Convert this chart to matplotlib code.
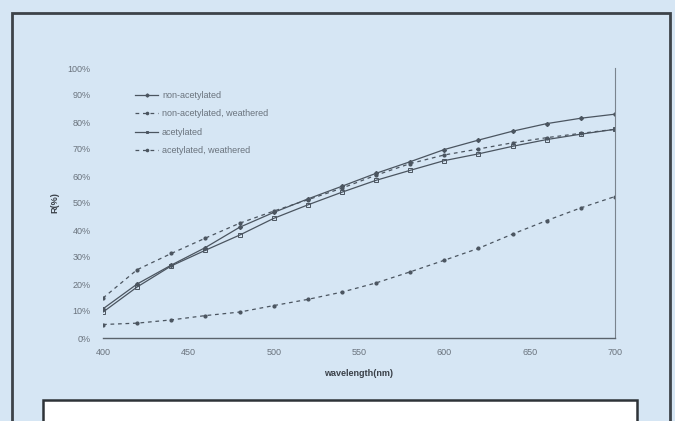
import matplotlib
matplotlib.use("Agg")
import matplotlib.pyplot as plt
from matplotlib.patches import Rectangle
from matplotlib.ticker import FuncFormatter

# wavelengths (nm) and reflectance R (%)
wavelength = [400, 420, 440, 460, 480, 500, 520, 540, 560, 580, 600, 620, 640, 660, 680, 700]
non_acetylated = [10.8, 20.0, 27.0, 33.5, 41.0, 46.5, 51.5, 56.2, 61.0, 65.3, 69.8, 73.3, 76.6, 79.4, 81.4, 82.9]
non_acetylated_weathered = [14.8, 25.3, 31.3, 37.0, 42.5, 47.0, 51.2, 55.5, 60.3, 64.6, 67.8, 70.0, 72.3, 74.2, 75.8, 77.3]
acetylated = [9.6, 18.9, 26.7, 32.5, 38.1, 44.3, 49.3, 54.0, 58.4, 62.1, 65.7, 68.2, 71.0, 73.5, 75.5, 77.3]
acetylated_weathered = [5.0, 5.5, 6.7, 8.3, 9.6, 12.0, 14.3, 17.0, 20.4, 24.5, 28.8, 33.2, 38.5, 43.5, 48.2, 52.4]

labels = ["non-acetylated", "non-acetylated, weathered", "acetylated", "acetylated, weathered"]

W, H = 675, 421
bg = "#d6e6f4"
line_c = "#4b5560"
text_c = "#6a737d"
plt.rcParams["font.family"] = ["Liberation Sans", "DejaVu Sans"]

fig = plt.figure(figsize=(W / 100, H / 100), dpi=100)
fig.patch.set_facecolor(bg)

# outer frame and caption box (pixel coords from top-left)
def px_rect(x0, y0, x1, y1, **kw):
    return Rectangle((x0 / W, 1 - y1 / H), (x1 - x0) / W, (y1 - y0) / H,
                     transform=fig.transFigure, **kw)

fig.patches.append(px_rect(12, 13, 670, 430, fill=False, edgecolor="#3d4349", linewidth=2))
fig.patches.append(px_rect(43, 400, 637, 430, facecolor="white", edgecolor="#2e3338", linewidth=1.8))

ax = fig.add_axes([103 / W, (H - 338) / H, 512 / W, 270 / H])
ax.set_facecolor("none")

ax.plot(wavelength, non_acetylated, color=line_c, lw=0.9, marker="D", ms=2.0)
ax.plot(wavelength, non_acetylated_weathered, color=line_c, lw=0.9, ls=(0, (3, 3)), marker="o", ms=2.0)
ax.plot(wavelength, acetylated, color=line_c, lw=0.9, marker="s", ms=2.4, mfc="none", mew=0.7)
ax.plot(wavelength, acetylated_weathered, color=line_c, lw=0.9, ls=(0, (3, 3)), marker="o", ms=2.0)

ax.set_xlim(400, 700)
ax.set_ylim(0, 100)
ax.set_xticks([400, 450, 500, 550, 600, 650, 700])
ax.set_yticks(range(0, 101, 10))
ax.yaxis.set_major_formatter(FuncFormatter(lambda v, p: "%d%%" % v))
ax.tick_params(length=0, labelsize=6.5, labelcolor=text_c)
ax.tick_params(axis="y", pad=9)
ax.tick_params(axis="x", pad=7)

for s in ["top", "left"]:
    ax.spines[s].set_visible(False)
ax.spines["bottom"].set_color("#5a636c")
ax.spines["right"].set_color("#7a848e")
ax.spines["bottom"].set_linewidth(1.0)
ax.spines["right"].set_linewidth(0.8)

ax.set_xlabel("wavelength(nm)", fontsize=6.5, color="#3a4048", fontweight="bold", labelpad=9)
ax.set_ylabel("R(%)", fontsize=6.5, color="#3a4048", fontweight="bold", labelpad=6)

ax.legend(labels, loc="upper left", bbox_to_anchor=(135 / W, 1 - 91 / H),
          bbox_transform=fig.transFigure, frameon=False, fontsize=6.5,
          labelspacing=1.05, handlelength=2.6, handletextpad=0.4,
          borderpad=0, borderaxespad=0, labelcolor=text_c, markerscale=0.8)

fig.savefig("out.png", dpi=100, facecolor=bg)
